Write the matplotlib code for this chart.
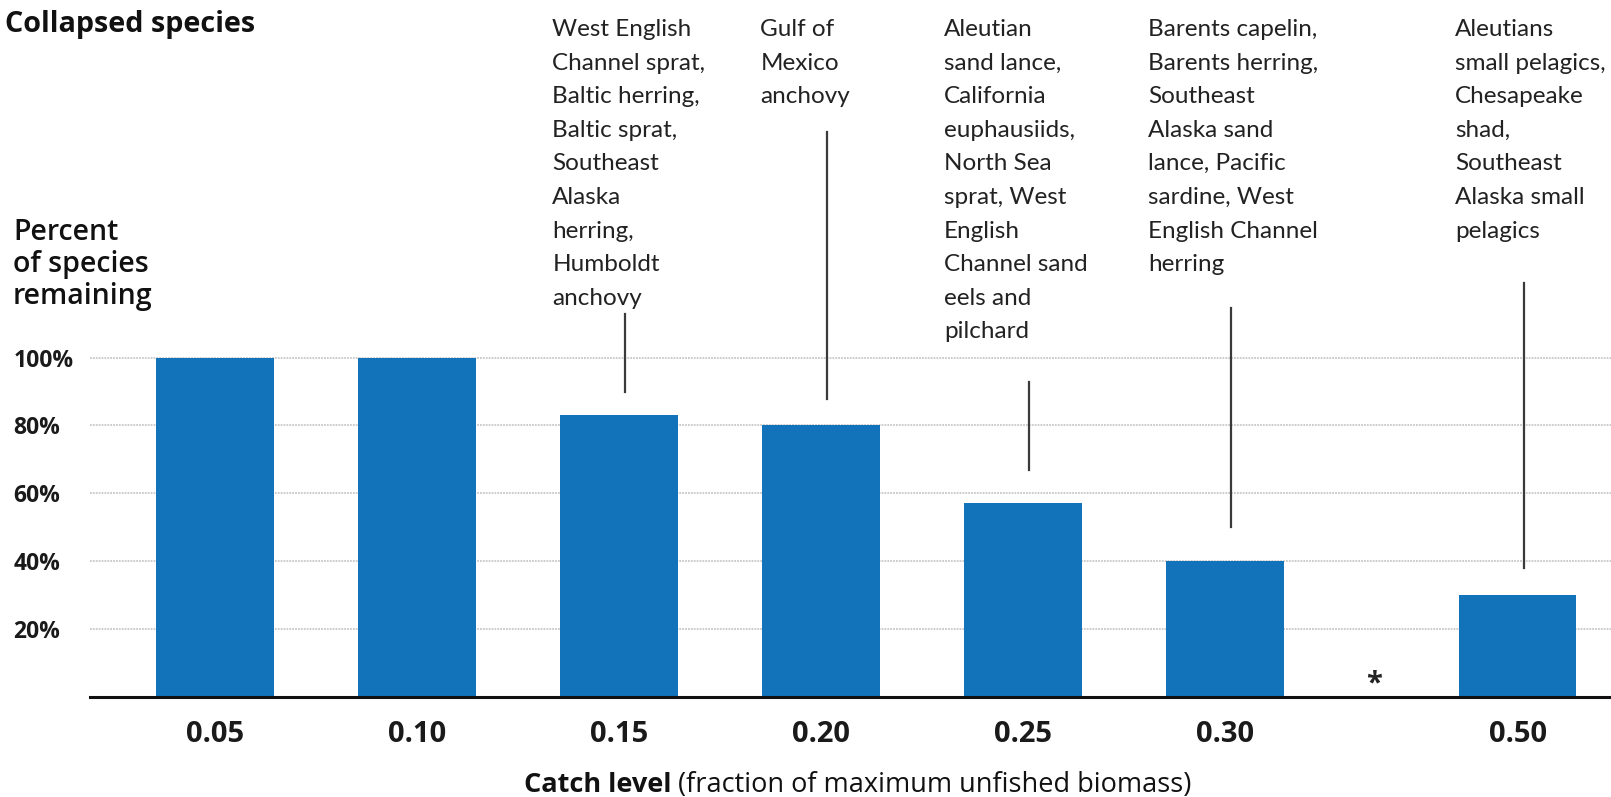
import matplotlib
matplotlib.use('Agg')
import matplotlib.pyplot as plt

# catch level (fraction of max unfished biomass) vs share of species remaining
catch_levels = ['0.05', '0.10', '0.15', '0.20', '0.25', '0.30', '0.50']
pct_remaining = [100, 100, 83, 80, 57, 40, 30]
collapsed = [
    None,
    None,
    "West English\nChannel sprat,\nBaltic herring,\nBaltic sprat,\nSoutheast\nAlaska\nherring,\nHumboldt\nanchovy",
    "Gulf of\nMexico\nanchovy",
    "Aleutian\nsand lance,\nCalifornia\neuphausiids,\nNorth Sea\nsprat, West\nEnglish\nChannel sand\neels and\npilchard",
    "Barents capelin,\nBarents herring,\nSoutheast\nAlaska sand\nlance, Pacific\nsardine, West\nEnglish Channel\nherring",
    "Aleutians\nsmall pelagics,\nChesapeake\nshad,\nSoutheast\nAlaska small\npelagics",
]
yticks = [20, 40, 60, 80, 100]

# layout
xpos = [0, 1, 2, 3, 4, 5, 6.45]
star_x = 5.74
text_dx = [0, 0, -0.33, -0.30, -0.39, -0.38, -0.31]
line_dx = 0.03
line_top = [None, None, 113.0, 166.5, 92.9, 114.6, 122.0]
line_gap = [None, None, 6.8, 7.8, 9.9, 10.0, 8.0]
note_y0 = 194.9      # baseline of the first note line, in axis units
note_step = 9.91     # distance between note lines, in axis units

BLUE = '#1272ba'
LABEL_FONT = 'Open Sans'
NOTE_FONT = 'Lato'

fig = plt.figure(figsize=(16.11, 7.97), dpi=100)
ax = fig.add_axes([90 / 1611, 100.3 / 797, 1 - 90 / 1611, 1 - 100.3 / 797])

ax.bar(xpos, pct_remaining, width=0.58, color=BLUE, zorder=2)

ax.set_xlim(-0.619, 6.911)
ax.set_ylim(0, 205.5)

for s in ['top', 'right', 'left']:
    ax.spines[s].set_visible(False)
ax.spines['bottom'].set_linewidth(2.2)
ax.spines['bottom'].set_color('#111111')
ax.spines['bottom'].set_zorder(3)

ax.set_yticks(yticks)
ax.set_yticklabels([f'{v}%' for v in yticks], fontfamily=LABEL_FONT,
                   fontweight='bold', fontsize=16.5, ha='left', color='#1a1a1a')
ax.tick_params(axis='y', length=0, pad=55)
ax.yaxis.grid(True, color='#c8c8c8', linestyle=(0, (1, 0.6)), linewidth=1.3, zorder=0)

ax.set_xticks(xpos)
ax.set_xticklabels(catch_levels, fontfamily=LABEL_FONT, fontweight='bold',
                   fontsize=21, color='#1a1a1a')
ax.tick_params(axis='x', length=0, pad=17)

# species that collapsed at each catch level, with leader lines
for i, note in enumerate(collapsed):
    if note is None:
        continue
    for k, row in enumerate(note.split('\n')):
        ax.text(xpos[i] + text_dx[i], note_y0 - k * note_step, row, ha='left',
                va='baseline', fontfamily=NOTE_FONT, fontsize=17.5, color='#222222')
    lx = xpos[i] + line_dx
    ax.plot([lx, lx], [pct_remaining[i] + line_gap[i], line_top[i]],
            color='#3a3a3a', linewidth=1.6, zorder=3)

ax.text(star_x, 3.8, '*', ha='center', va='center', fontfamily=LABEL_FONT,
        fontweight='bold', fontsize=21, color='#222222')

fig.text(5 / 1611, 1 - 32 / 797, 'Collapsed species', ha='left', va='baseline',
         fontfamily=LABEL_FONT, fontweight='bold', fontsize=20.7, color='#111111')
fig.text(13 / 1611, 1 - 218 / 797, 'Percent\nof species\nremaining', ha='left', va='top',
         fontfamily=LABEL_FONT, fontweight='semibold', fontsize=20.5, color='#111111',
         linespacing=1.14)

t1 = fig.text(524 / 1611, 1 - 792 / 797, 'Catch level', ha='left', va='baseline',
              fontfamily=LABEL_FONT, fontweight='bold', fontsize=19.5, color='#111111')
fig.canvas.draw()
bb = t1.get_window_extent()
fig.text(bb.x1 / 1611 + 6 / 1611, 1 - 792 / 797, '(fraction of maximum unfished biomass)',
         ha='left', va='baseline', fontfamily=LABEL_FONT, fontsize=19.5, color='#111111')

fig.savefig('out.png', dpi=100, facecolor='white')
